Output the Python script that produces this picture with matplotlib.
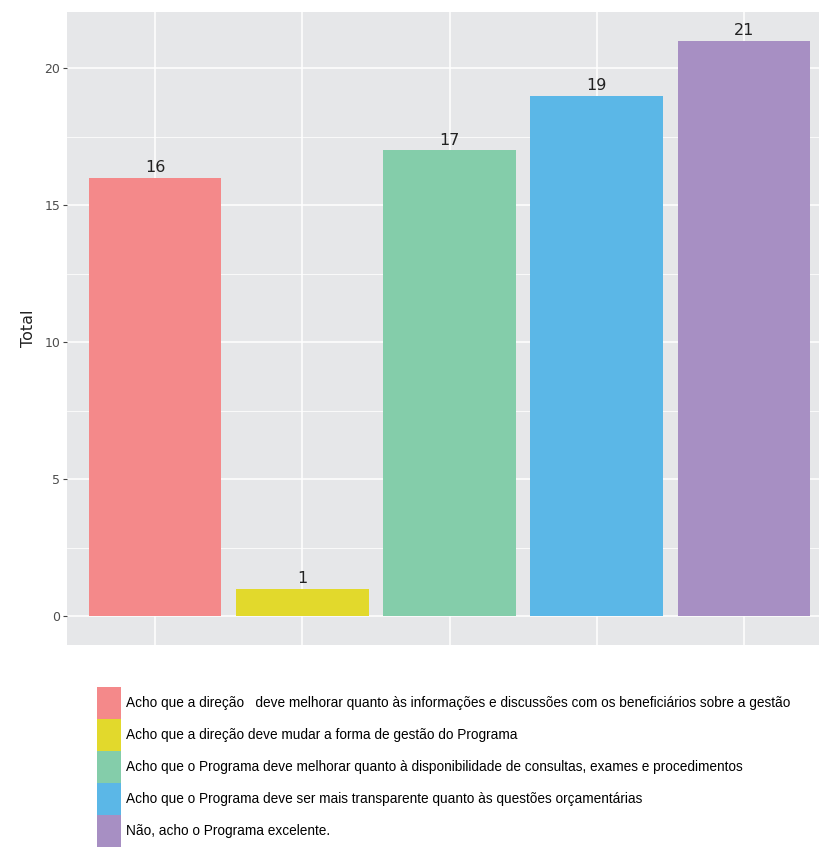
import matplotlib.pyplot as plt
from matplotlib.patches import Patch

respostas = [
    "Acho que a direção   deve melhorar quanto às informações e discussões com os beneficiários sobre a gestão",
    "Acho que a direção deve mudar a forma de gestão do Programa",
    "Acho que o Programa deve melhorar quanto à disponibilidade de consultas, exames e procedimentos",
    "Acho que o Programa deve ser mais transparente quanto às questões orçamentárias",
    "Não, acho o Programa excelente.",
]
totais = [16, 1, 17, 19, 21]
cores = ["#F4898A", "#E2D92C", "#84CDAA", "#5BB7E7", "#A78FC3"]
y_ticks = [0, 5, 10, 15, 20]

fig = plt.figure(figsize=(8.19, 8.67), dpi=100)
# painel maior que a figura: a borda direita fica cortada
ax = fig.add_axes([67 / 819, 222 / 867, 765 / 819, 633 / 867])
ax.set_facecolor("#E6E7E9")

x = list(range(1, len(totais) + 1))
ax.bar(x, totais, width=0.9, color=cores, zorder=3)
for xi, t in zip(x, totais):
    ax.text(xi, t + 0.1, str(t), ha="center", va="bottom", fontsize=11.5,
            color="#222222", zorder=4)

ax.set_xlim(0.4, 5.6)
ax.set_ylim(-1.05, 22.05)
ax.set_xticks(x)
ax.set_xticklabels([])
ax.set_yticks(y_ticks)
ax.set_yticks([2.5, 7.5, 12.5, 17.5], minor=True)
ax.tick_params(axis="x", length=0)
ax.tick_params(axis="y", which="major", length=3, color="#444444",
               labelsize=9, labelcolor="#4D4D4D", pad=2)
ax.tick_params(axis="y", which="minor", length=0)
ax.grid(True, which="major", color="white", linewidth=1.1, zorder=0)
ax.grid(True, which="minor", axis="y", color="white", linewidth=0.55, zorder=0)
for s in ax.spines.values():
    s.set_visible(False)
ax.set_ylabel("Total", fontsize=11.5, color="#222222", labelpad=6)

handles = [Patch(facecolor=c, edgecolor="none") for c in cores]
fig.legend(handles, respostas, loc="upper left",
           bbox_to_anchor=(97 / 819, 1 - 687 / 867), frameon=False,
           prop={"family": "Liberation Sans", "size": 9.8},
           handlelength=1.75, handleheight=3.25,
           labelspacing=0.0, handletextpad=0.4, borderpad=0.0,
           borderaxespad=0.0)

fig.savefig("out.png", dpi=100)
